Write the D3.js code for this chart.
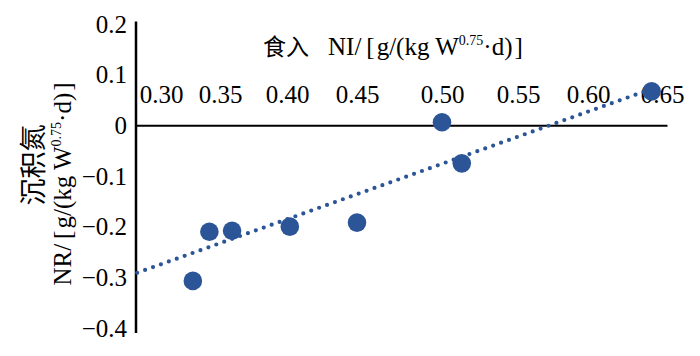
<!DOCTYPE html>
<html>
<head>
<meta charset="utf-8">
<script src="https://cdn.jsdelivr.net/npm/d3@7"></script>
<style>
  html, body { margin: 0; padding: 0; background: #fff; }
  svg { display: block; }
  .serif { font-family: "Liberation Serif", "Times New Roman", serif; }
  .cjk { font-family: "Noto Sans CJK SC", sans-serif; }
</style>
</head>
<body>
<svg id="chart" width="700" height="356"></svg>
<script>
// ---- data ----
const xTicks = [0.30, 0.35, 0.40, 0.45, 0.50, 0.55, 0.60, 0.65];
const xTickLabels = ["0.30", "0.35", "0.40", "0.45", "0.50", "0.55", "0.60", "0.65"];
const yTicks = [-0.4, -0.3, -0.2, -0.1, 0, 0.1, 0.2];
const yTickLabels = ["\u22120.4", "\u22120.3", "\u22120.2", "\u22120.1", "0", "0.1", "0.2"];
const niValues = [0.327, 0.341, 0.359, 0.402, 0.450, 0.500, 0.513, 0.643];
const nrValues = [-0.307, -0.210, -0.208, -0.200, -0.192, 0.006, -0.075, 0.067];
const trendX = [0.280, 0.645];
const trendY = [-0.291, 0.074];
const xDomainEnds = [0.279, 0.6535];
const yAxisEnds = [-0.41, 0.205];

// ---- layout ----
const svg = d3.select("#chart");
const blue = "#2b5597";

// The printed tick labels are unevenly spaced, so the scale follows them piecewise.
const x = d3.scaleLinear()
  .domain([xDomainEnds[0], ...xTicks, xDomainEnds[1]])
  .range([136, 161, 220, 287, 357, 442, 518, 588, 662, 667]);
const y = d3.scaleLinear().domain([-0.4, 0.2]).range([328, 24]);

// x axis (labels above the line)
const xAxis = svg.append("g")
  .attr("transform", `translate(0,${y(0)})`)
  .call(d3.axisTop(x).tickValues(xTicks)
    .tickFormat((d, i) => xTickLabels[i])
    .tickSize(0).tickSizeOuter(0).tickPadding(22));
xAxis.attr("font-family", null).attr("font-size", null);
xAxis.select(".domain").attr("stroke", "#000").attr("stroke-width", 2);
xAxis.selectAll("text").attr("class", "serif").style("font-size", "25px").attr("fill", "#000");

// y axis
const yAxis = svg.append("g")
  .attr("transform", `translate(${x(xDomainEnds[0])},0)`)
  .call(d3.axisLeft(y).tickValues(yTicks)
    .tickFormat((d, i) => yTickLabels[i])
    .tickSize(0).tickSizeOuter(0).tickPadding(9));
yAxis.attr("font-family", null).attr("font-size", null);
yAxis.select(".domain").remove();
yAxis.append("line")
  .attr("x1", 0).attr("x2", 0)
  .attr("y1", y(yAxisEnds[1])).attr("y2", y(yAxisEnds[0]))
  .attr("stroke", "#000").attr("stroke-width", 2.5);
yAxis.selectAll("text").attr("class", "serif").style("font-size", "25px").attr("fill", "#000");

// trend line (dotted)
svg.append("line")
  .attr("x1", x(trendX[0])).attr("y1", y(trendY[0]))
  .attr("x2", x(trendX[1])).attr("y2", y(trendY[1]))
  .attr("stroke", blue).attr("stroke-width", 4.2)
  .attr("stroke-linecap", "round")
  .attr("stroke-dasharray", "0 8.4");

// points
svg.append("g").selectAll("circle")
  .data(niValues.map((v, i) => [v, nrValues[i]]))
  .join("circle")
  .attr("cx", d => x(d[0])).attr("cy", d => y(d[1]))
  .attr("r", 9.3).attr("fill", blue);

// unit text builder: "[g/(kg W^0.75·d)]"
function unit(t) {
  t.append("tspan").attr("dx", 5).text("[");
  t.append("tspan").attr("dx", 2).text("g/(kg W");
  t.append("tspan").style("font-size", "14px").attr("dy", -10).text("0.75");
  t.append("tspan").attr("dy", 10).text("·d)");
  t.append("tspan").attr("dx", 2).text("]");
}

// x axis title
const xt = svg.append("text")
  .attr("x", 263).attr("y", 55)
  .attr("class", "serif").style("font-size", "25px").attr("fill", "#000");
xt.append("tspan").attr("class", "cjk").style("font-size", "23px").text("食入");
xt.append("tspan").attr("dx", 19).text("NI/");
unit(xt);

// y axis title (two rotated lines)
svg.append("text")
  .attr("transform", "translate(43,165) rotate(-90)")
  .attr("text-anchor", "middle")
  .attr("class", "cjk").style("font-size", "27px").attr("fill", "#000")
  .text("沉积氮");

const yt = svg.append("text")
  .attr("transform", "translate(71,184) rotate(-90)")
  .attr("text-anchor", "middle")
  .attr("class", "serif").style("font-size", "25px").attr("fill", "#000");
yt.append("tspan").text("NR/");
unit(yt);
</script>
</body>
</html>
